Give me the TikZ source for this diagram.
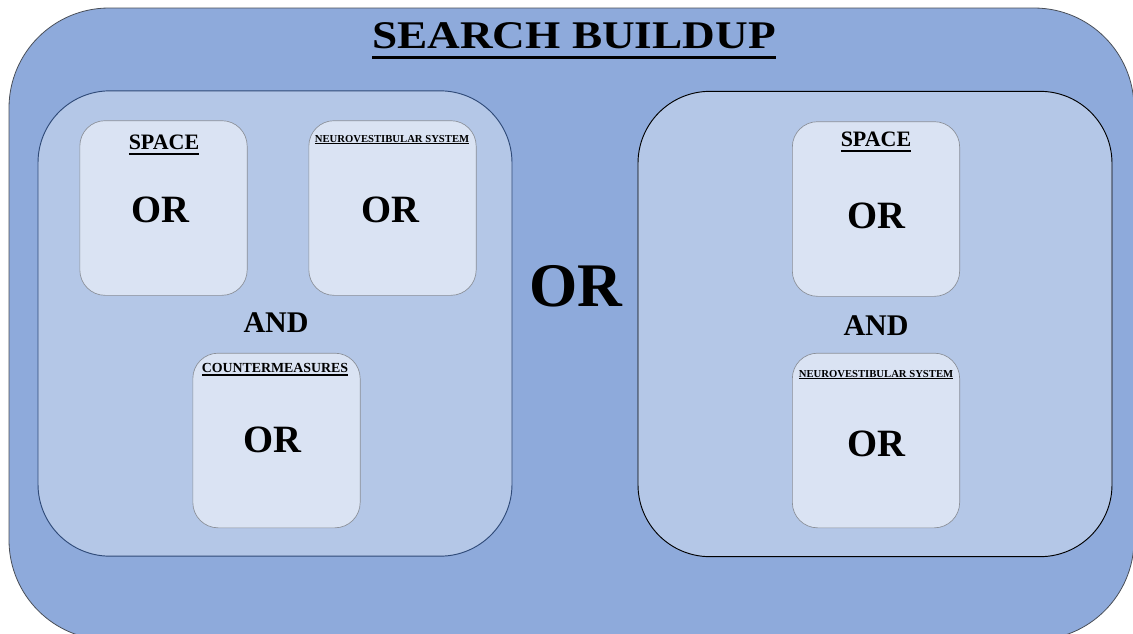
\documentclass[tikz,border=0pt]{standalone}
\usepackage{fontspec}
\setmainfont{Liberation Serif}
\usetikzlibrary{positioning}
\definecolor{outerc}{HTML}{8EAADB}
\definecolor{outerb}{HTML}{4A4F58}
\definecolor{groupc}{HTML}{B4C7E7}
\definecolor{groupb}{HTML}{2F4A78}
\definecolor{termc}{HTML}{DAE3F3}
\definecolor{termb}{HTML}{8A8F98}

% underlined heading: #1 rule thickness, #2 depth of rule, #3 text
\newcommand{\uhead}[3]{\setbox0\hbox{#3}\leavevmode\rlap{\rule[-#2]{\wd0}{#1}}\box0}

\begin{document}
\begin{tikzpicture}[
  x=0.75pt, y=-0.75pt, font=\bfseries,
  outerbox/.style={draw=outerb, fill=outerc, line width=.6pt, rounded corners=75pt},
  groupbox/.style={draw=groupb, fill=groupc, line width=.7pt, minimum width=355.5pt, minimum height=349pt, rounded corners=54pt},
  termbox/.style={draw=termb, fill=termc, line width=.5pt, minimum width=125.5pt, minimum height=131pt, rounded corners=19pt},
  txt/.style={anchor=base, inner sep=0pt},
  head/.style={txt, font=\bfseries\fontsize{16.5}{18}\selectfont},
  tiny/.style={txt, font=\bfseries\fontsize{8}{9}\selectfont},
  small/.style={txt, font=\bfseries\fontsize{10.4}{12}\selectfont},
  op/.style={txt, font=\bfseries\fontsize{29}{32}\selectfont},
  conj/.style={txt, font=\bfseries\fontsize{22.5}{25}\selectfont},
  bigop/.style={txt, font=\bfseries\fontsize{46.5}{50}\selectfont},
]
\useasboundingbox (0,0) rectangle (1133,633);
\clip (0,0) rectangle (1133,633);

% ---------------- frame
\draw[outerbox] (9,8) rectangle (1134,640);
\node[txt, font=\bfseries\fontsize{29.4}{33}\selectfont] (title) at (574,48) {\uhead{2.2pt}{8pt}{\scalebox{1.155}[1]{SEARCH BUILDUP}}};

% ---------------- left group
\node[groupbox] (left) at (275,323.5) {};
\node[termbox] (lspace) at (163.5,208) {};
\node[termbox] (lneuro) at (392.5,208) {};
\node[termbox] (lcounter) at (276.5,440.5) {};
\node[head] (lspacet) at (164,149) {\uhead{1.3pt}{4.2pt}{SPACE}};
\node[op]   (lspaceo) at (160,222) {OR};
\node[tiny] (lneurot) at (392,142) {\uhead{.8pt}{1.6pt}{NEUROVESTIBULAR SYSTEM}};
\node[op]   (lneuroo) at (390,222) {OR};
\node[conj] (land)    at (276,332) {AND};
\node[small] (lcountert) at (275,372) {\uhead{1pt}{2.8pt}{COUNTERMEASURES}};
\node[op]   (lcountero) at (272,452) {OR};

% ---------------- middle
\node[bigop] (mid) at (576,306) {OR};

% ---------------- right group
\node[groupbox, draw=black] (right) at (875,324) {};
\node[termbox] (rspace) at (876,209) {};
\node[termbox] (rneuro) at (876,440.5) {};
\node[head] (rspacet) at (876,146) {\uhead{1.3pt}{4.2pt}{SPACE}};
\node[op]   (rspaceo) at (876,228) {OR};
\node[conj] (rand)    at (876,335) {AND};
\node[tiny] (rneurot) at (876,377) {\uhead{.8pt}{1.6pt}{NEUROVESTIBULAR SYSTEM}};
\node[op]   (rneuroo) at (876,456) {OR};

\end{tikzpicture}
\end{document}
